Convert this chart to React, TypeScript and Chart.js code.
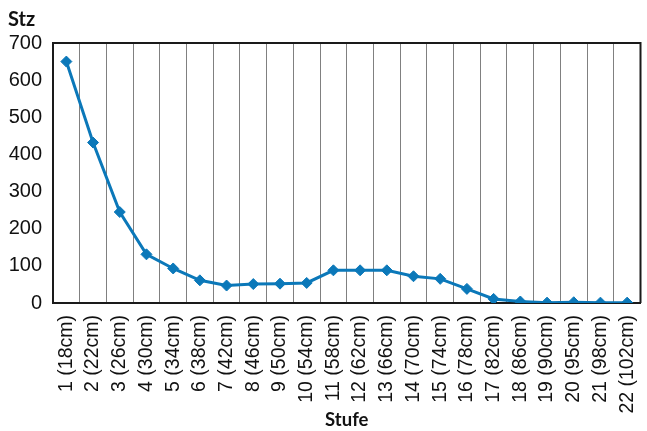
import React, { useEffect, useRef } from "react";
import { Chart, registerables } from "chart.js";

Chart.register(...registerables);

const categories = [
  "1 (18cm)", "2 (22cm)", "3 (26cm)", "4 (30cm)", "5 (34cm)", "6 (38cm)",
  "7 (42cm)", "8 (46cm)", "9 (50cm)", "10 (54cm)", "11 (58cm)", "12 (62cm)",
  "13 (66cm)", "14 (70cm)", "15 (74cm)", "16 (78cm)", "17 (82cm)", "18 (86cm)",
  "19 (90cm)", "20 (95cm)", "21 (98cm)", "22 (102cm)",
];
const stzValues = [650, 432, 245, 131, 93, 61, 47, 51, 52, 54, 88, 88, 88, 72, 65, 38, 11, 4, 1, 2, 1, 1];
const yTicks = [0, 100, 200, 300, 400, 500, 600, 700];
const yTitle = "Stz";
const xTitle = "Stufe";

const frame = {
  id: "frame",
  afterDatasetsDraw(chart: any) {
    const { ctx, chartArea } = chart;
    ctx.save();
    ctx.strokeStyle = "#1a1a1a";
    ctx.lineWidth = 2;
    ctx.beginPath();
    ctx.moveTo(chartArea.left, chartArea.top);
    ctx.lineTo(chartArea.right, chartArea.top);
    ctx.lineTo(chartArea.right, chartArea.bottom);
    ctx.stroke();
    ctx.restore();
  },
};

const tickFont = "'Liberation Sans', Arial, sans-serif";

export default function App() {
  const ref = useRef<HTMLCanvasElement>(null);
  useEffect(() => {
    if (!ref.current) return;
    const chart = new Chart(ref.current, {
      type: "line",
      data: {
        labels: categories,
        datasets: [
          {
            data: stzValues,
            borderColor: "#0b78b9",
            backgroundColor: "#0b78b9",
            borderWidth: 3,
            pointStyle: "rectRot",
            pointRadius: 5.5,
            pointBorderWidth: 1,
            tension: 0,
          },
        ],
      },
      plugins: [frame],
      options: {
        animation: false,
        responsive: false,
        devicePixelRatio: 1,
        layout: { padding: { left: 8, right: 6, top: 8, bottom: 0 } },
        plugins: {
          legend: { display: false },
          tooltip: { enabled: false },
          title: {
            display: true,
            text: yTitle,
            align: "start",
            color: "#111",
            font: { family: "Lato", size: 20, weight: "bold" },
            padding: { top: 0, bottom: 11 },
          },
        },
        scales: {
          x: {
            offset: true,
            grid: { offset: true, color: "#808080", lineWidth: 1, drawTicks: false },
            border: { color: "#1a1a1a", width: 2 },
            ticks: {
              minRotation: 90,
              maxRotation: 90,
              autoSkip: false,
              padding: 12,
              color: "#111",
              font: { family: tickFont, size: 19.5 },
            },
            title: {
              display: true,
              text: xTitle,
              color: "#111",
              font: { family: "Lato", size: 18.5, weight: "bold" },
              padding: { top: 4, bottom: 0 },
            },
            afterFit(scale: any) {
              scale.height = 128;
              scale.paddingLeft = 0;
              scale.paddingRight = 0;
            },
          },
          y: {
            min: 0,
            max: 700,
            afterBuildTicks(scale: any) {
              scale.ticks = yTicks.map((v) => ({ value: v }));
            },
            grid: { display: false, drawTicks: false },
            border: { color: "#1a1a1a", width: 2 },
            ticks: {
              padding: 11,
              color: "#111",
              font: { family: tickFont, size: 20 },
            },
            afterFit(scale: any) {
              scale.width = 45;
            },
          },
        },
      },
    });
    return () => chart.destroy();
  }, []);
  return (
    <div style={{ position: "fixed", left: 0, top: 0, width: 647, height: 431, background: "#fff" }}>
      <canvas ref={ref} width={647} height={431} style={{ width: 647, height: 431 }} />
    </div>
  );
}
